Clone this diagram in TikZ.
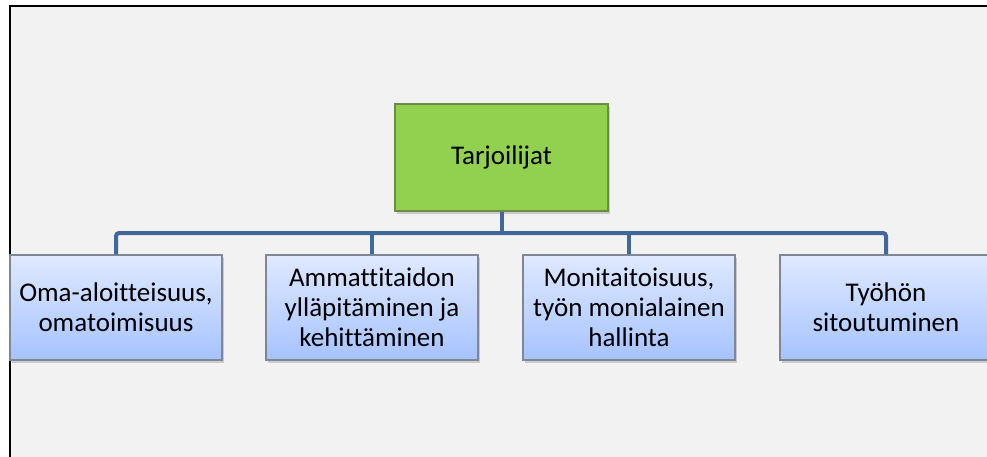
\documentclass[tikz,border=0pt]{standalone}
\usepackage{fontspec}
\setmainfont{Carlito}[Ligatures=NoCommon]
\usetikzlibrary{shadows}
\definecolor{bg}{RGB}{242,242,242}
\definecolor{gfill}{RGB}{146,208,80}
\definecolor{gline}{RGB}{108,140,70}
\definecolor{btop}{RGB}{223,233,255}
\definecolor{bbot}{RGB}{166,195,255}
\definecolor{bline}{RGB}{125,135,150}
\definecolor{conn}{RGB}{65,104,150}
\tikzset{
  boxbase/.style={minimum width=212pt, minimum height=105pt, align=center,
    font=\fontsize{27}{30}\selectfont, inner sep=0pt,
    drop shadow={shadow xshift=1.5pt, shadow yshift=-3pt, opacity=0.35}},
  topbox/.style={boxbase, fill=gfill, draw=gline, line width=1.2pt, minimum width=213pt, minimum height=107pt},
  subbox/.style={boxbase, top color=btop, bottom color=bbot, draw=bline, line width=1.2pt},
  connline/.style={draw=conn, line width=4pt, rounded corners=3pt}
}
\begin{document}
\begin{tikzpicture}[x=1pt,y=-1pt]
\useasboundingbox (0,0) rectangle (987,457);
\clip (0,0) rectangle (987,457);
\fill[white] (0,0) rectangle (987,457);
\fill[bg] (10,6.5) rectangle (1000,470);
\draw[black, line width=2pt] (10,480) -- (10,6.5) -- (1000,6.5);
\node[topbox] (g) at (501.5,157.5) {Tarjoilijat};
\node[subbox] (b1) at (116,307.5) {Oma-aloitteisuus,\\omatoimisuus};
\node[subbox] (b2) at (372,307.5) {Ammattitaidon\\ylläpitäminen ja\\kehittäminen};
\node[subbox] (b3) at (629,307.5) {Monitaitoisuus,\\työn monialainen\\hallinta};
\node[subbox] (b4) at (886,307.5) {Työhön\\sitoutuminen};
\coordinate (bar) at (500,233);
\draw[connline] (b1.north) |- (bar) -| (b4.north);
\draw[connline] (g.south) -- (g.south |- bar);
\draw[connline] (b2.north) -- (b2.north |- bar);
\draw[connline] (b3.north) -- (b3.north |- bar);
\end{tikzpicture}
\end{document}
